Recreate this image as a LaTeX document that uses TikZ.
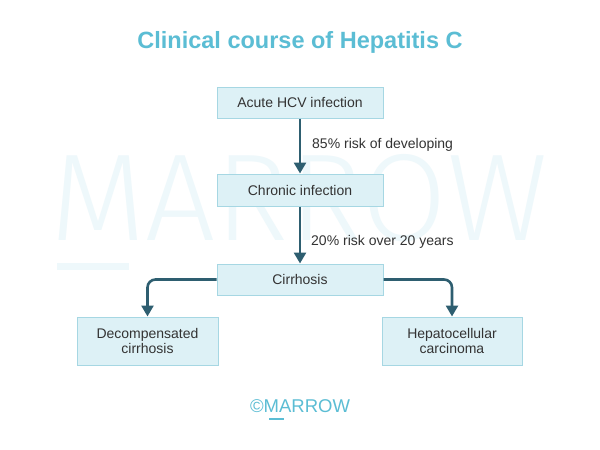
\documentclass[tikz,border=0pt]{standalone}
\usepackage{fontspec}
\setmainfont{Liberation Sans}
\newfontfamily\wmfont{Fira Sans Light}
\usetikzlibrary{arrows.meta}
\definecolor{titlecol}{HTML}{5BBDD4}
\definecolor{boxfill}{HTML}{DDF1F6}
\definecolor{boxline}{HTML}{A6D7E3}
\definecolor{arrcol}{HTML}{2E5E70}
\definecolor{txtcol}{HTML}{333333}
\definecolor{wmcol}{HTML}{EEF8FB}
\tikzset{
  box/.style={draw=boxline, fill=boxfill, line width=1pt, inner sep=0pt,
    text=txtcol, align=center, font=\fontsize{14}{15.5}\selectfont},
  arr/.style={draw=arrcol, line width=2.6pt, rounded corners=8pt,
    -{Triangle[width=12pt,length=11pt]}},
  lbl/.style={text=txtcol, font=\fontsize{14}{16}\selectfont, anchor=west, inner sep=0pt}
}
\begin{document}
\begin{tikzpicture}[x=1pt,y=-1pt]
\useasboundingbox[fill=white] (0,0) rectangle (600,450);
% watermark
\node[anchor=base west, inner sep=0pt, text=wmcol] (wm) at (50,240)
  {\resizebox{497pt}{86pt}{\wmfont MARROW}};
\fill[wmcol] (57,263) rectangle (129,270);
% title
\node[anchor=base, text=titlecol, inner sep=0pt,
  font=\fontsize{23.5}{26}\selectfont\bfseries] (title) at (300,48)
  {Clinical course of Hepatitis C};
% boxes
\node[box, minimum width=166pt, minimum height=31pt] (a) at (300,102.5) {Acute HCV infection};
\node[box, minimum width=166pt, minimum height=32pt] (b) at (300,190) {Chronic infection};
\node[box, minimum width=166pt, minimum height=31pt] (c) at (300,279.5) {Cirrhosis};
\node[box, minimum width=141pt, minimum height=48pt] (d) at (147.5,341) {Decompensated\\cirrhosis};
\node[box, minimum width=140pt, minimum height=48pt] (e) at (452,341) {Hepatocellular\\carcinoma};
% connectors
\draw[arr] (a) -- (b);
\draw[arr] (b) -- (c);
\draw[arr] (c.west) -| (d.north);
\draw[arr] (c.east) -| (e.north);
% labels
\node[lbl] (l1) at (312,145) {85\% risk of developing};
\node[lbl] (l2) at (311,242) {20\% risk over 20 years};
% footer
\node[anchor=base, text=titlecol, inner sep=0pt,
  font=\fontsize{18.5}{20}\selectfont] (foot) at (300,412) {\char"00A9MARROW};
\fill[titlecol] (269,418) rectangle (284,419.5);
\end{tikzpicture}
\end{document}
